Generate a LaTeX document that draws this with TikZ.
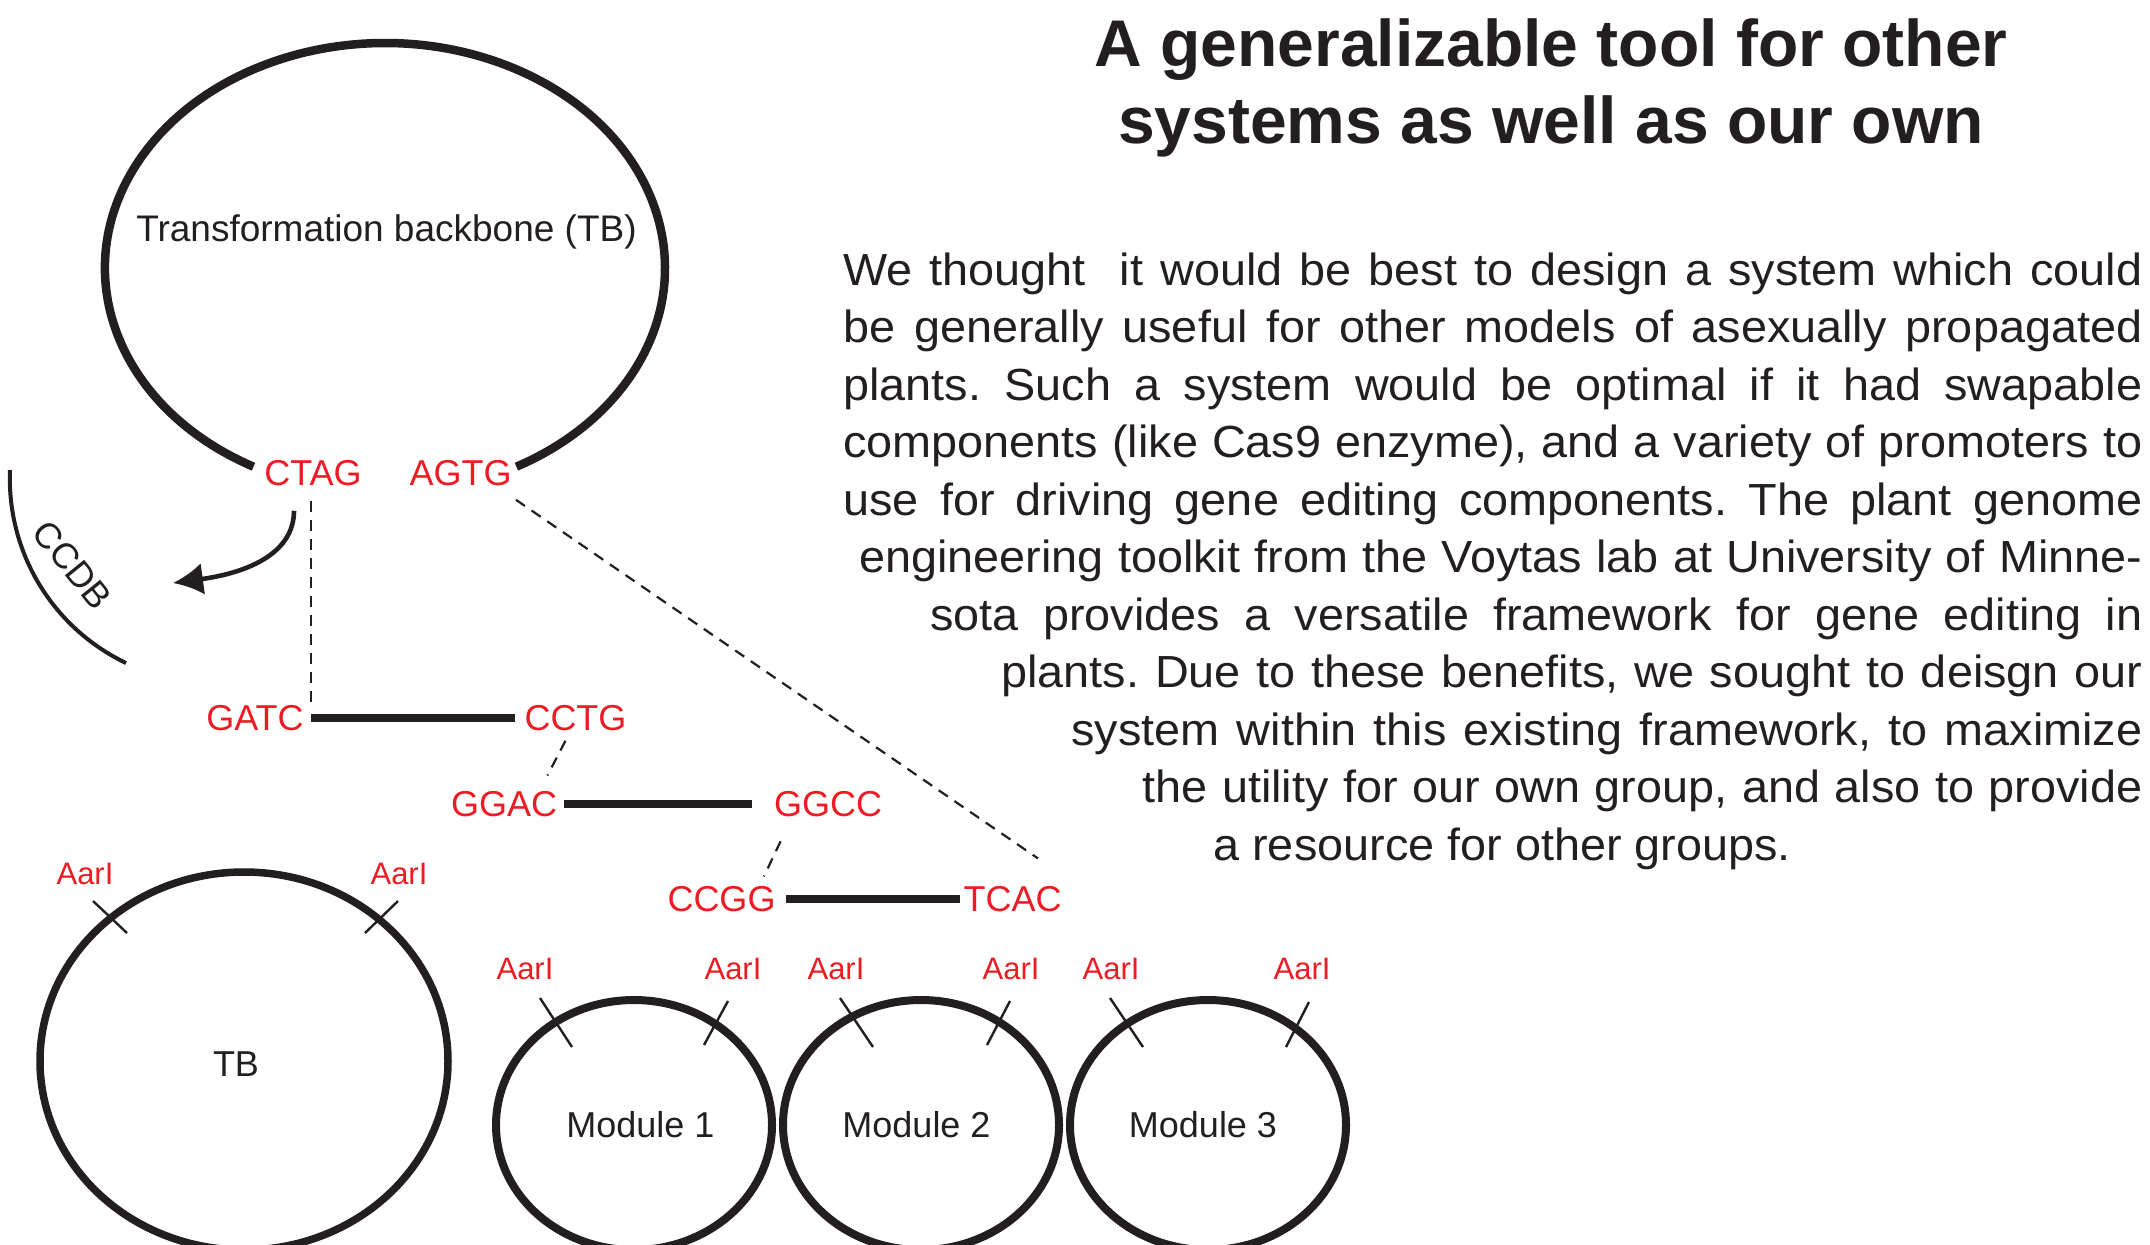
\documentclass[tikz,border=0pt]{standalone}
\usepackage{fontspec}
\setmainfont{Liberation Sans}
\newfontfamily\bodyfont[FakeStretch=1.04]{Liberation Sans}
\usetikzlibrary{arrows.meta,calc}
\definecolor{ink}{HTML}{231F20}
\definecolor{sitered}{HTML}{ED1C24}
\frenchspacing
\begin{document}
\begin{tikzpicture}[x=0.5pt,y=-0.5pt,
  seq/.style={text=sitered, font=\fontsize{18pt}{18pt}\selectfont, inner sep=0pt, anchor=base},
  enz/.style={text=sitered, font=\fontsize{15.5pt}{15.5pt}\selectfont, inner sep=0pt, anchor=base},
  lbl/.style={text=ink, font=\fontsize{18pt}{18pt}\selectfont, inner sep=0pt, anchor=base},
  bodyline/.style={text=ink, font=\bodyfont\fontsize{22.5pt}{22.5pt}\selectfont, inner sep=0pt, anchor=base west},
  titleline/.style={text=ink, font=\bfseries\fontsize{33pt}{33pt}\selectfont, inner sep=0pt, anchor=base},
  plasmid/.style={draw=ink, line width=4pt},
  fragment/.style={draw=ink, line width=4pt},
  junction/.style={draw=ink, line width=1.1pt, dash pattern=on 5.5pt off 4pt},
  cutsite/.style={draw=ink, line width=1.2pt},
]
\useasboundingbox (0,0) rectangle (2150,1244);

% ---------- heading ----------
\node[titleline] (title1) at (1551,66) {A generalizable tool for other};
\node[titleline] (title2) at (1551,143) {systems as well as our own};

% ---------- paragraph ----------
\node[bodyline] (p1) at (843,285) {\makebox[649.5pt][s]{We thought\ \ it would be best to design a system which could}};
\node[bodyline] (p2) at (843,342.5) {\makebox[649.5pt][s]{be generally useful for other models of asexually propagated}};
\node[bodyline] (p3) at (843,400) {\makebox[649.5pt][s]{plants. Such a system would be optimal if it had swapable}};
\node[bodyline] (p4) at (843,457.5) {\makebox[649.5pt][s]{components (like Cas9 enzyme), and a variety of promoters to}};
\node[bodyline] (p5) at (843,515) {\makebox[649.5pt][s]{use for driving gene editing components. The plant genome}};
\node[bodyline] (p6) at (859,572.5) {\makebox[641.5pt][s]{engineering toolkit from the Voytas lab at University of Minne-}};
\node[bodyline] (p7) at (930,630) {\makebox[606pt][s]{sota provides a versatile framework for gene editing in}};
\node[bodyline] (p8) at (1001,687.5) {\makebox[570.5pt][s]{plants. Due to these benefits, we sought to deisgn our}};
\node[bodyline] (p9) at (1071,745) {\makebox[535.5pt][s]{system within this existing framework, to maximize}};
\node[bodyline] (p10) at (1142,802.5) {\makebox[500pt][s]{the utility for our own group, and also to provide}};
\node[bodyline] (p11) at (1213,860) {a resource for other groups.};

% ---------- transformation backbone with its overhangs ----------
\draw[plasmid, line width=4.25pt] (253.5,466.7) arc[start angle=118, end angle=422, x radius=280, y radius=225];
\node[lbl, font=\fontsize{18.5pt}{18.5pt}\selectfont] (tbname) at (386.5,241) {Transformation backbone (TB)};
\node[seq] (CTAG) at (313,485) {CTAG};
\node[seq] (AGTG) at (460.5,485) {AGTG};

% ccdB cassette released from the backbone
\draw[ink, line width=2pt] (10,470) .. controls (6.6,551.8) and (52.1,627.6) .. (126,663);
\node[lbl, anchor=center, rotate=-51] (ccdb) at (72.5,565) {CCDB};
\coordinate (ccdbtip) at (173,583);
\draw[ink, line width=2.3pt, -{Latex[length=15pt,width=16pt]}]
  ($(CTAG.south)+(-19,25)$) .. controls +(0,40) and +(80,-11) .. (ccdbtip);

% ---------- assembled fragments ----------
\node[seq] (GATC) at (255,730) {GATC};
\node[seq] (CCTG) at (575.5,730) {CCTG};
\node[seq] (GGAC) at (504,816) {GGAC};
\node[seq] (GGCC) at (828,816) {GGCC};
\node[seq] (CCGG) at (721.5,911) {CCGG};
\node[seq] (TCAC) at (1012.5,911) {TCAC};

\draw[fragment, shorten <=3.5pt, shorten >=4.5pt] (GATC.east) -- (CCTG.west);
\draw[fragment, shorten <=3.5pt, shorten >=11pt] (GGAC.east) -- (GGCC.west);
\draw[fragment, shorten <=5pt, shorten >=1.5pt] (CCGG.east) -- (TCAC.west);

\draw[junction] ($(CTAG.south)+(-2,15)$) -- ($(CTAG.south |- GATC.north)+(-2,0)$);
\draw[junction] ($(CCTG.south)+(-10,10)$) -- ($(GGAC.north east)+(-10,-15)$);
\draw[junction] ($(GGCC.south west)+(7,24.5)$) -- ($(CCGG.north east)+(-12,-9)$);
\draw[junction] ($(AGTG.south east)+(4,14)$) -- ($(TCAC.north)+(25.5,-27)$);

% ---------- destination vector and modules ----------
\draw[plasmid, line width=3.75pt] (244,1061) ellipse[x radius=204, y radius=189];
\node[lbl] (tb) at (236,1076) {TB};
\node[enz] (aTB1) at (85,884) {AarI};
\node[enz] (aTB2) at (399,884) {AarI};
\draw[cutsite] (93,901) -- (127,933);
\draw[cutsite] (398,901) -- (365,933);

\draw[plasmid] (634,1125) ellipse[x radius=138, y radius=125];
\draw[plasmid] (921,1125) ellipse[x radius=138, y radius=125];
\draw[plasmid] (1208,1125) ellipse[x radius=138, y radius=125];
\node[lbl] (mod1) at (640.5,1137) {Module 1};
\node[lbl] (mod2) at (916.5,1137) {Module 2};
\node[lbl] (mod3) at (1203,1137) {Module 3};

\node[enz] (aM1a) at (525,979) {AarI};
\node[enz] (aM1b) at (733,979) {AarI};
\node[enz] (aM2a) at (836,979) {AarI};
\node[enz] (aM2b) at (1011,979) {AarI};
\node[enz] (aM3a) at (1111,979) {AarI};
\node[enz] (aM3b) at (1302,979) {AarI};

\draw[cutsite] (540,998) -- (572,1047);
\draw[cutsite] (728,1001) -- (704,1045);
\draw[cutsite] (840,998) -- (873,1047);
\draw[cutsite] (1010,1001) -- (987,1045);
\draw[cutsite] (1110,998) -- (1143,1047);
\draw[cutsite] (1309,1002) -- (1286,1047);
\end{tikzpicture}
\end{document}
